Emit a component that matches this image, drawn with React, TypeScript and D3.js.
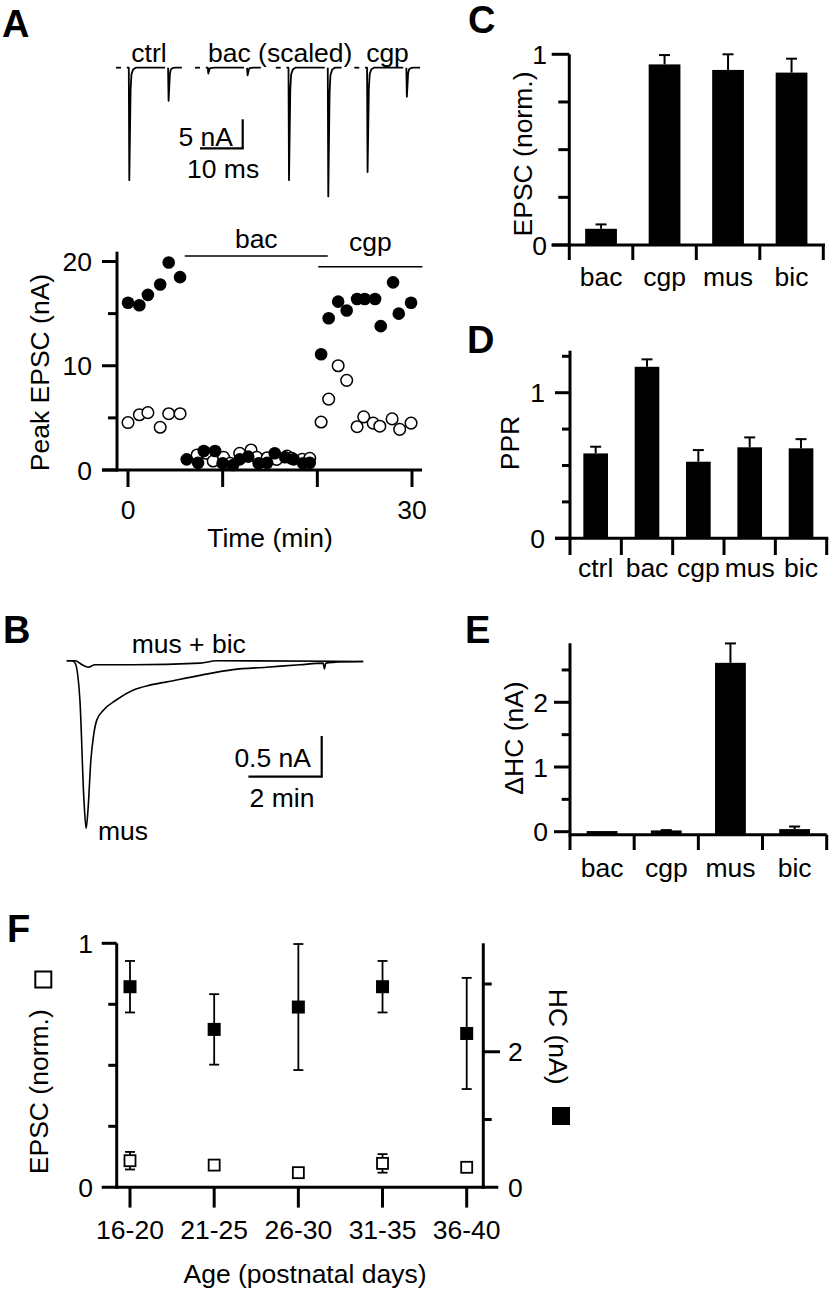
import React from 'react';
import * as d3 from 'd3';

const FONT = '"Liberation Sans", Arial, Helvetica, sans-serif';
const FS = 26.5;
const LFS = 38;

// ---------- Panel A: example traces ----------
const traceOnsetMs = [0, 18.5, 37.4, 55.8];
const tracePeak1nA = [19.4, 1.0, 19.4, 18.0];
const tracePeak2nA = [5.7, 1.3, 22.2, 5.0];
const pulseIntervalMs = 9.2;
const spikeShapeMs = [-0.12, 0, 0.15, 0.3, 0.5, 0.9, 1.5];
const spikeShapeFrac = [0, 1, 0.6, 0.2, 0.06, 0.015, 0];

// ---------- Panel A: time course ----------
const epsc1Time = [0, 1.2, 2.1, 3.4, 4.3, 5.5, 6.2, 7.4, 8.0, 9.2, 10.0, 11.1, 11.8, 12.7, 13.8, 14.7, 15.5, 16.6, 17.5, 18.5, 19.2, 20.4, 21.2, 22.2, 23.1, 24.2, 25.0, 26.1, 26.7, 28.0, 28.6, 29.9];
const epsc1Peak = [16.05, 15.8, 16.8, 17.8, 19.9, 18.5, 1.02, 0.7, 1.82, 1.82, 0.64, 0.48, 1.02, 1.28, 0.64, 0.7, 1.6, 1.22, 1.02, 0.64, 0.7, 11.1, 14.55, 16.15, 15.3, 16.4, 16.4, 16.4, 13.8, 18.0, 15.0, 16.05];
const epsc2Time = [0, 1.2, 2.1, 3.4, 4.3, 5.5, 7.3, 8.3, 9.0, 10.1, 10.8, 11.8, 13.0, 13.6, 14.7, 15.7, 16.8, 17.3, 18.4, 19.2, 20.4, 21.2, 22.2, 23.1, 24.2, 24.9, 25.9, 26.6, 27.9, 28.7, 29.9];
const epsc2Peak = [4.55, 5.3, 5.5, 4.1, 5.4, 5.4, 1.44, 1.6, 0.86, 1.22, 0.64, 1.6, 1.92, 1.22, 1.18, 1.02, 1.34, 1.12, 1.02, 1.12, 4.6, 6.8, 10.0, 8.6, 4.15, 5.1, 4.5, 4.2, 4.9, 3.9, 4.5];
const drugLabels = ['bac', 'cgp'];
const drugStart = [6.0, 20.1];
const drugEnd = [21.1, 31.1];
const timeTicks = [0, 10, 20, 30];
const timeTickLabels = ['0', '', '', '30'];
const peakTicks = [0, 5, 10, 15, 20];
const peakMajor = [0, 10, 20];

// ---------- Panel B: holding current traces ----------
const musTime = [0, 0.14, 0.23, 0.36, 0.47, 0.53, 0.58, 0.66, 0.73, 0.82, 1.0, 1.36, 1.82, 2.27, 2.73, 3.64, 4.54, 5.45, 6.36, 7.0, 7.03, 7.07, 7.27, 8.09];
const musCurrent = [0, 0, -0.03, -0.48, -1.71, -2.06, -1.84, -1.22, -0.93, -0.73, -0.61, -0.48, -0.36, -0.3, -0.26, -0.18, -0.11, -0.08, -0.05, -0.03, -0.1, -0.03, -0.02, -0.01];
const musBicTime = [0, 0.23, 0.42, 0.59, 0.77, 1.81, 3.64, 4.09, 8.09];
const musBicCurrent = [0, 0, -0.05, -0.08, -0.05, -0.05, -0.03, 0, -0.01];

// ---------- Panel C ----------
const cCats = ['bac', 'cgp', 'mus', 'bic'];
const cVals = [0.085, 0.947, 0.918, 0.904];
const cErrs = [0.023, 0.049, 0.082, 0.073];

// ---------- Panel D ----------
const dCats = ['ctrl', 'bac', 'cgp', 'mus', 'bic'];
const dVals = [0.583, 1.178, 0.526, 0.625, 0.618];
const dErrs = [0.046, 0.051, 0.08, 0.068, 0.063];

// ---------- Panel E ----------
const eCats = ['bac', 'cgp', 'mus', 'bic'];
const eVals = [0.01, 0.02, 2.61, 0.04];
const eErrs = [0, 0.005, 0.3, 0.04];

// ---------- Panel F ----------
const ageGroups = ['16-20', '21-25', '26-30', '31-35', '36-40'];
const hcMean = [2.96, 2.33, 2.66, 2.96, 2.27];
const hcSem = [0.38, 0.52, 0.93, 0.38, 0.82];
const epscMean = [0.109, 0.091, 0.06, 0.098, 0.082];
const epscSem = [0.036, 0, 0, 0.038, 0];

const AX = 3; // axis stroke width

function Letter({ x, y, t }: { x: number; y: number; t: string }) {
  return (
    <text x={x} y={y} fontFamily={FONT} fontSize={LFS} fontWeight="bold">
      {t}
    </text>
  );
}

function TXT(props: any) {
  const { children, ...rest } = props;
  return (
    <text fontFamily={FONT} fontSize={FS} fill="#000" {...rest}>
      {children}
    </text>
  );
}

function BarPanel(p: {
  cats: string[];
  vals: number[];
  errs: number[];
  left: number;
  right: number;
  padInner: number;
  y: d3.ScaleLinear<number, number>;
  ticks: number[];
  major: number[];
  axisTop: number;
  majorLen: number;
  minorLen: number;
  xAxisY: number;
  xAxisLeft: number;
  xAxisRight: number;
  tickDownTo: number;
  catLabelY: number;
  tickLabelRight: number;
  yLabel: string;
  yLabelX: number;
  yLabelY: number;
}) {
  const xb = d3
    .scaleBand<string>()
    .domain(p.cats)
    .range([p.left, p.right])
    .paddingInner(p.padInner)
    .paddingOuter(p.padInner / 2);
  const step = xb.step();
  const bw = xb.bandwidth();
  return (
    <g>
      {p.cats.map((c, i) => {
        const x = xb(c)!;
        const cx = x + bw / 2;
        const top = p.y(p.vals[i]);
        const et = p.y(p.vals[i] + p.errs[i]);
        return (
          <g key={c}>
            <rect x={x} y={top} width={bw} height={p.xAxisY - top} fill="#000" />
            {p.errs[i] > 0 && (
              <g stroke="#000" strokeWidth={2}>
                <line x1={cx} x2={cx} y1={top} y2={et} />
                <line x1={cx - 5.5} x2={cx + 5.5} y1={et} y2={et} />
              </g>
            )}
            <TXT x={cx} y={p.catLabelY} textAnchor="middle">
              {c}
            </TXT>
          </g>
        );
      })}
      <line x1={p.left} x2={p.left} y1={p.axisTop} y2={p.xAxisY + AX / 2} stroke="#000" strokeWidth={AX} />
      {p.ticks.map((t) => {
        const isMajor = p.major.includes(t);
        return (
          <line
            key={'t' + t}
            x1={p.left - (isMajor ? p.majorLen : p.minorLen)}
            x2={p.left}
            y1={p.y(t)}
            y2={p.y(t)}
            stroke="#000"
            strokeWidth={AX}
          />
        );
      })}
      {p.major.map((t) => (
        <TXT key={'l' + t} x={p.tickLabelRight} y={p.y(t)} dy="0.36em" textAnchor="end">
          {String(t)}
        </TXT>
      ))}
      <line x1={p.xAxisLeft} x2={p.xAxisRight} y1={p.xAxisY} y2={p.xAxisY} stroke="#000" strokeWidth={AX} />
      {d3.range(p.cats.length + 1).map((i) => (
        <line
          key={'s' + i}
          x1={p.left + i * step}
          x2={p.left + i * step}
          y1={p.xAxisY}
          y2={p.tickDownTo}
          stroke="#000"
          strokeWidth={AX}
        />
      ))}
      <TXT
        transform={`translate(${p.yLabelX},${p.yLabelY}) rotate(-90)`}
        textAnchor="middle"
        dominantBaseline="central"
      >
        {p.yLabel}
      </TXT>
    </g>
  );
}

export default function App() {
  // ---------- Panel A traces ----------
  const xT = d3.scaleLinear().domain([0, 10]).range([129.3, 172]);
  const yT = d3.scaleLinear().domain([0, 5]).range([67.7, 96.7]);
  const lineT = d3
    .line<[number, number]>()
    .x((d) => xT(d[0]))
    .y((d) => yT(d[1]));
  const tracePaths: string[] = [];
  traceOnsetMs.forEach((on, i) => {
    tracePaths.push(lineT([[on - 3.1, 0], [on - 1.95, 0]])!);
    const seg1: [number, number][] = [[on - 0.6, 0]];
    spikeShapeMs.forEach((t, k) => seg1.push([on + t, tracePeak1nA[i] * spikeShapeFrac[k]]));
    seg1.push([on + 8.36, 0]);
    tracePaths.push(lineT(seg1)!);
    const seg2: [number, number][] = [];
    spikeShapeMs.forEach((t, k) => seg2.push([on + pulseIntervalMs + t, tracePeak2nA[i] * spikeShapeFrac[k]]));
    seg2.push([on + 12.3, 0]);
    tracePaths.push(lineT(seg2)!);
  });
  const sbX = 242.7;
  const sbY = 148.3;

  // ---------- Panel A scatter ----------
  const xA = d3.scaleLinear().domain([0, 30]).range([128, 412]);
  const yA = d3.scaleLinear().domain([0, 20]).range([470, 261.5]);
  const axA = 117;

  // ---------- Panel B ----------
  const xB = d3.scaleLinear().domain([0, 2]).range([66.7, 140]);
  const yB = d3.scaleLinear().domain([0, -0.5]).range([660.7, 701.4]);
  const musPath = d3
    .line<number>()
    .x((d) => xB(d))
    .y((_, i) => yB(musCurrent[i]))
    .curve(d3.curveMonotoneX)(musTime)!;
  const musBicPath = d3
    .line<number>()
    .x((d) => xB(d))
    .y((_, i) => yB(musBicCurrent[i]))
    .curve(d3.curveMonotoneX)(musBicTime)!;
  const bBarX = 321.7;
  const bBarY = 776.7;

  // ---------- Panel C/D/E scales ----------
  const yC = d3.scaleLinear().domain([0, 1]).range([245, 54.3]);
  const yD = d3.scaleLinear().domain([0, 1]).range([538.3, 392.7]);
  const yE = d3.scaleLinear().domain([0, 1]).range([831.7, 767]);

  // ---------- Panel F ----------
  const xF = d3.scalePoint<string>().domain(ageGroups).range([130, 466.7]);
  const yFL = d3.scaleLinear().domain([0, 1]).range([1187.3, 943.3]);
  const yFR = d3.scaleLinear().domain([0, 3]).range([1187.3, 984]);
  const fLeft = 116.7;
  const fRight = 483.3;
  const fTop = 943.3;
  const fBase = 1187.3;

  return (
    <div style={{ position: 'absolute', left: 0, top: 0 }}>
      <svg width={829} height={1291} viewBox="0 0 829 1291" style={{ display: 'block', background: '#fff' }}>
        <rect x={0} y={0} width={829} height={1291} fill="#fff" />
        {/* Panel letters */}
        <Letter x={2} y={37} t="A" />
        <Letter x={3} y={643} t="B" />
        <Letter x={468} y={33} t="C" />
        <Letter x={467} y={353} t="D" />
        <Letter x={465} y={643} t="E" />
        <Letter x={7} y={942} t="F" />

        {/* ===== Panel A traces ===== */}
        <g fill="none" stroke="#000" strokeWidth={1.8} strokeLinejoin="round">
          {tracePaths.map((d, i) => (
            <path key={i} d={d} />
          ))}
        </g>
        <TXT x={149} y={61.5} textAnchor="middle">ctrl</TXT>
        <TXT x={208} y={61.5}>bac (scaled)</TXT>
        <TXT x={387.5} y={61.5} textAnchor="middle">cgp</TXT>
        <g stroke="#000" strokeWidth={2.2}>
          <line x1={sbX} x2={sbX} y1={sbY} y2={sbY - (yT(5) - yT(0))} />
          <line x1={sbX - (xT(10) - xT(0))} x2={sbX + 1.1} y1={sbY} y2={sbY} />
        </g>
        <TXT x={233} y={145.5} textAnchor="end">5 nA</TXT>
        <TXT x={187} y={178}>10 ms</TXT>

        {/* ===== Panel A scatter ===== */}
        {drugLabels.map((l, i) => (
          <g key={l}>
            <line
              x1={xA(drugStart[i])}
              x2={xA(drugEnd[i])}
              y1={i === 0 ? 256 : 266.7}
              y2={i === 0 ? 256 : 266.7}
              stroke="#000"
              strokeWidth={1.5}
            />
            <TXT x={(xA(drugStart[i]) + xA(drugEnd[i])) / 2} y={i === 0 ? 248 : 250.5} textAnchor="middle">
              {l}
            </TXT>
          </g>
        ))}
        <line x1={axA} x2={axA} y1={251.7} y2={yA(0) + AX / 2} stroke="#000" strokeWidth={AX} />
        {peakTicks.map((t) => (
          <line
            key={t}
            x1={peakMajor.includes(t) ? 102 : 108}
            x2={axA}
            y1={yA(t)}
            y2={yA(t)}
            stroke="#000"
            strokeWidth={AX}
          />
        ))}
        {peakMajor.map((t) => (
          <TXT key={t} x={92} y={yA(t)} dy="0.36em" textAnchor="end">
            {String(t)}
          </TXT>
        ))}
        <line x1={102} x2={422} y1={yA(0)} y2={yA(0)} stroke="#000" strokeWidth={AX} />
        {timeTicks.map((t, i) => (
          <g key={t}>
            <line x1={xA(t)} x2={xA(t)} y1={yA(0)} y2={487} stroke="#000" strokeWidth={AX} />
            {timeTickLabels[i] && (
              <TXT x={xA(t)} y={519} textAnchor="middle">
                {timeTickLabels[i]}
              </TXT>
            )}
          </g>
        ))}
        <TXT x={270} y={547} textAnchor="middle">Time (min)</TXT>
        <TXT transform="translate(40,372.5) rotate(-90)" textAnchor="middle" dominantBaseline="central">
          Peak EPSC (nA)
        </TXT>
        {epsc2Time.map((t, i) => (
          <circle key={'o' + i} cx={xA(t)} cy={yA(epsc2Peak[i])} r={5.8} fill="#fff" stroke="#000" strokeWidth={1.5} />
        ))}
        {epsc1Time.map((t, i) => (
          <circle key={'f' + i} cx={xA(t)} cy={yA(epsc1Peak[i])} r={6.3} fill="#000" />
        ))}

        {/* ===== Panel B ===== */}
        <g fill="none" stroke="#000" strokeWidth={1.6} strokeLinejoin="round">
          <path d={musBicPath} />
          <path d={musPath} />
        </g>
        <TXT x={131.7} y={653.3}>mus + bic</TXT>
        <TXT x={98} y={840}>mus</TXT>
        <g stroke="#000" strokeWidth={2.2}>
          <line x1={bBarX} x2={bBarX} y1={bBarY} y2={bBarY - (yB(-0.5) - yB(0))} />
          <line x1={bBarX - (xB(2) - xB(0))} x2={bBarX + 1.1} y1={bBarY} y2={bBarY} />
        </g>
        <TXT x={311} y={766.7} textAnchor="end">0.5 nA</TXT>
        <TXT x={282} y={806.7} textAnchor="middle">2 min</TXT>

        {/* ===== Panel C ===== */}
        <BarPanel
          cats={cCats}
          vals={cVals}
          errs={cErrs}
          left={569.3}
          right={823.3}
          padInner={0.5}
          y={yC}
          ticks={[0, 0.25, 0.5, 0.75, 1]}
          major={[0, 1]}
          axisTop={yC(1)}
          majorLen={17.6}
          minorLen={11}
          xAxisY={yC(0)}
          xAxisLeft={551.7}
          xAxisRight={825}
          tickDownTo={260}
          catLabelY={286}
          tickLabelRight={547}
          yLabel="EPSC (norm.)"
          yLabelX={523}
          yLabelY={154}
        />

        {/* ===== Panel D ===== */}
        <BarPanel
          cats={dCats}
          vals={dVals}
          errs={dErrs}
          left={570}
          right={826.7}
          padInner={0.52}
          y={yD}
          ticks={[0, 0.25, 0.5, 0.75, 1, 1.25]}
          major={[0, 1]}
          axisTop={350.7}
          majorLen={15}
          minorLen={8}
          xAxisY={yD(0)}
          xAxisLeft={555}
          xAxisRight={828.3}
          tickDownTo={555}
          catLabelY={576.7}
          tickLabelRight={545}
          yLabel="PPR"
          yLabelX={509.5}
          yLabelY={443}
        />

        {/* ===== Panel E ===== */}
        <BarPanel
          cats={eCats}
          vals={eVals}
          errs={eErrs}
          left={570}
          right={826.7}
          padInner={0.52}
          y={yE}
          ticks={[0, 0.5, 1, 1.5, 2, 2.5]}
          major={[0, 1, 2]}
          axisTop={643.3}
          majorLen={16}
          minorLen={8.3}
          xAxisY={yE(0) + 3}
          xAxisLeft={570}
          xAxisRight={826.7}
          tickDownTo={850}
          catLabelY={876.7}
          tickLabelRight={548}
          yLabel="ΔHC (nA)"
          yLabelX={514}
          yLabelY={738}
        />

        {/* ===== Panel F ===== */}
        <line x1={fLeft} x2={fLeft} y1={fTop} y2={fBase + AX / 2} stroke="#000" strokeWidth={AX} />
        <line x1={fRight} x2={fRight} y1={fTop} y2={fBase + AX / 2} stroke="#000" strokeWidth={AX} />
        <line x1={101.7} x2={498.3} y1={fBase} y2={fBase} stroke="#000" strokeWidth={AX} />
        {[0.25, 0.5, 0.75, 1].map((t) => (
          <line
            key={'fl' + t}
            x1={t === 1 ? 101.7 : 108.3}
            x2={fLeft}
            y1={yFL(t)}
            y2={yFL(t)}
            stroke="#000"
            strokeWidth={AX}
          />
        ))}
        {[1, 2, 3].map((t) => (
          <line
            key={'fr' + t}
            x1={fRight}
            x2={t === 2 ? 500 : 491.7}
            y1={yFR(t)}
            y2={yFR(t)}
            stroke="#000"
            strokeWidth={AX}
          />
        ))}
        {[0, 1].map((t) => (
          <TXT key={'flb' + t} x={93} y={yFL(t)} dy="0.36em" textAnchor="end">
            {String(t)}
          </TXT>
        ))}
        {[0, 2].map((t) => (
          <TXT key={'frb' + t} x={508} y={yFR(t)} dy="0.36em">
            {String(t)}
          </TXT>
        ))}
        {ageGroups.map((g) => (
          <g key={g}>
            <line x1={xF(g)} x2={xF(g)} y1={fBase} y2={1207.6} stroke="#000" strokeWidth={AX} />
            <TXT x={xF(g)} y={1239} textAnchor="middle">
              {g}
            </TXT>
          </g>
        ))}
        <TXT x={305} y={1283} textAnchor="middle">Age (postnatal days)</TXT>
        <TXT transform="translate(39,1091.7) rotate(-90)" textAnchor="middle" dominantBaseline="central">
          EPSC (norm.)
        </TXT>
        <TXT transform="translate(558,1036.7) rotate(90)" textAnchor="middle" dominantBaseline="central">
          HC (nA)
        </TXT>
        <rect x={43.3 - 8} y={979.5 - 8} width={16} height={16} fill="#fff" stroke="#000" strokeWidth={2} />
        <rect x={561 - 9} y={1116 - 9} width={18} height={18} fill="#000" />
        {/* HC (filled) */}
        {ageGroups.map((g, i) => {
          const cx = xF(g)!;
          const top = yFR(hcMean[i] + hcSem[i]);
          const bot = yFR(hcMean[i] - hcSem[i]);
          return (
            <g key={'hc' + g}>
              <g stroke="#000" strokeWidth={1.8}>
                <line x1={cx} x2={cx} y1={top} y2={bot} />
                <line x1={cx - 5} x2={cx + 5} y1={top} y2={top} />
                <line x1={cx - 5} x2={cx + 5} y1={bot} y2={bot} />
              </g>
              <rect x={cx - 6.5} y={yFR(hcMean[i]) - 6.5} width={13} height={13} fill="#000" />
            </g>
          );
        })}
        {/* EPSC (open) */}
        {ageGroups.map((g, i) => {
          const cx = xF(g)!;
          const top = yFL(epscMean[i] + epscSem[i]);
          const bot = yFL(epscMean[i] - epscSem[i]);
          return (
            <g key={'ep' + g}>
              {epscSem[i] > 0 && (
                <g stroke="#000" strokeWidth={1.8}>
                  <line x1={cx} x2={cx} y1={top} y2={bot} />
                  <line x1={cx - 5} x2={cx + 5} y1={top} y2={top} />
                  <line x1={cx - 5} x2={cx + 5} y1={bot} y2={bot} />
                </g>
              )}
              <rect
                x={cx - 5.5}
                y={yFL(epscMean[i]) - 5.5}
                width={11}
                height={11}
                fill="#fff"
                stroke="#000"
                strokeWidth={1.8}
              />
            </g>
          );
        })}
      </svg>
    </div>
  );
}
